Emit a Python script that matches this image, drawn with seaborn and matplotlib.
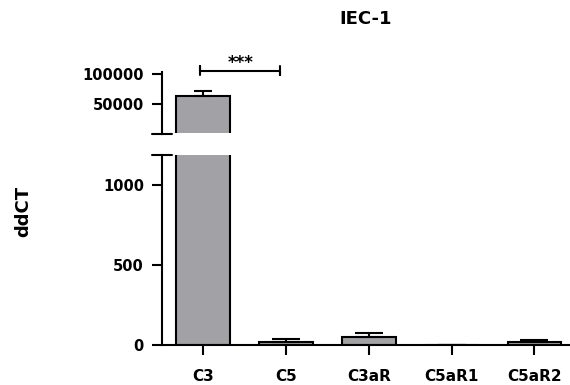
import numpy as np
import pandas as pd
import matplotlib
matplotlib.use("Agg")
import matplotlib.pyplot as plt
from matplotlib.patches import Rectangle
import seaborn as sns

# data
genes = ["C3", "C5", "C3aR", "C5aR1", "C5aR2"]
ddct_mean = [63500, 17, 48, 1, 19]
ddct_sem = [8500, 20, 29, 0.5, 12]

lower_ticks = [0, 500, 1000]
upper_ticks = [50000, 100000]
lower_lim = (0, 1190)
upper_lim = (1200, 104000)
sig_pair = ("C3", "C5")
sig_text = "***"

bar_color = "#A2A2A6"

sns.set_theme(style="white")
plt.rcParams["font.family"] = ["DejaVu Sans"]
plt.rcParams.update({
    "font.weight": "bold",
    "text.color": "black",
    "axes.edgecolor": "black",
    "axes.labelcolor": "black",
    "xtick.color": "black",
    "ytick.color": "black",
})

df = pd.DataFrame({"gene": genes, "ddct": ddct_mean, "sem": ddct_sem})
df["pos"] = np.arange(len(genes))

W, H = 570, 385
fig = plt.figure(figsize=(W / 100, H / 100), dpi=100)

# pixel boxes
left, right = 162, 570
up_top, up_bot = 71.5, 134
lo_top, lo_bot = 155, 345

ax_up = fig.add_axes([left / W, 1 - up_bot / H, (right - left) / W, (up_bot - up_top) / H])
ax_lo = fig.add_axes([left / W, 1 - lo_bot / H, (right - left) / W, (lo_bot - lo_top) / H])

for ax, cap, lim in [(ax_up, 6.5, upper_lim), (ax_lo, 10, lower_lim)]:
    sns.barplot(data=df, x="gene", y="ddct", color=bar_color, edgecolor="black",
                linewidth=1.5, width=0.65, errorbar=None, saturation=1, ax=ax)
    # only the error bars that reach into this segment
    seen = df[(df["ddct"] + df["sem"] > lim[0]) & (df["ddct"] < lim[1])]
    ax.errorbar(seen["pos"], seen["ddct"], yerr=[np.zeros(len(seen)), seen["sem"]],
                fmt="none", ecolor="black", elinewidth=1.5, capsize=cap, capthick=1.5, zorder=1)
    ax.set_xlim(-0.5, 4.43)
    ax.set_xlabel("")
    ax.set_ylabel("")
    ax.spines["top"].set_visible(False)
    ax.spines["right"].set_visible(False)
    ax.spines["left"].set_linewidth(1.5)
    ax.spines["bottom"].set_linewidth(1.5)
    ax.tick_params(axis="y", length=7, width=1.5, pad=6, labelsize=10.5, left=True)
    ax.tick_params(axis="x", length=7, width=1.5, pad=10, labelsize=11, bottom=True)

ax_up.set_ylim(*upper_lim)
ax_up.set_yticks(upper_ticks)
ax_up.set_yticklabels([str(t) for t in upper_ticks], fontweight="bold")
ax_up.spines["bottom"].set_visible(False)
ax_up.set_xticks([])

# the upper segment shows only the cut top of tall bars, with no closing edge
cut = Rectangle((0, 0.7 / (up_bot - up_top)), 1, 1, transform=ax_up.transAxes)
for p in ax_up.patches:
    if p.get_height() < upper_lim[0]:
        p.set_visible(False)
    p.set_clip_path(cut)

ax_lo.set_ylim(*lower_lim)
ax_lo.set_yticks(lower_ticks)
ax_lo.set_yticklabels([str(t) for t in lower_ticks], fontweight="bold")
ax_lo.set_xticks(range(len(genes)))
ax_lo.set_xticklabels(genes, fontweight="bold")

# break marks on the y axis
half = 10 / (right - left)
ax_up.plot([-half, half], [0, 0], transform=ax_up.transAxes, color="black", lw=1.5, clip_on=False)
ax_lo.plot([-half, half], [1, 1], transform=ax_lo.transAxes, color="black", lw=1.5, clip_on=False)

# significance bracket
i0, i1 = genes.index(sig_pair[0]), genes.index(sig_pair[1])
x0, x1 = i0 - 0.04, i1 - 0.07
yb = 105300
tick = 7500
ax_up.plot([x0, x0, x0, x1, x1, x1], [yb - tick, yb + tick, yb, yb, yb - tick, yb + tick],
           color="black", lw=1.5, clip_on=False)
ax_up.text((x0 + x1) / 2, yb - 1500, sig_text, ha="center", va="bottom",
           fontsize=12, fontweight="bold")

fig.text((left + right) / 2 / W, 1 - 19 / H, "IEC-1", ha="center", va="center",
         fontsize=13, fontweight="bold")
fig.text(23 / W, 1 - 211 / H, "ddCT", ha="center", va="center", rotation=90,
         fontsize=13, fontweight="bold")

fig.savefig("out.png", dpi=100, facecolor="white")
